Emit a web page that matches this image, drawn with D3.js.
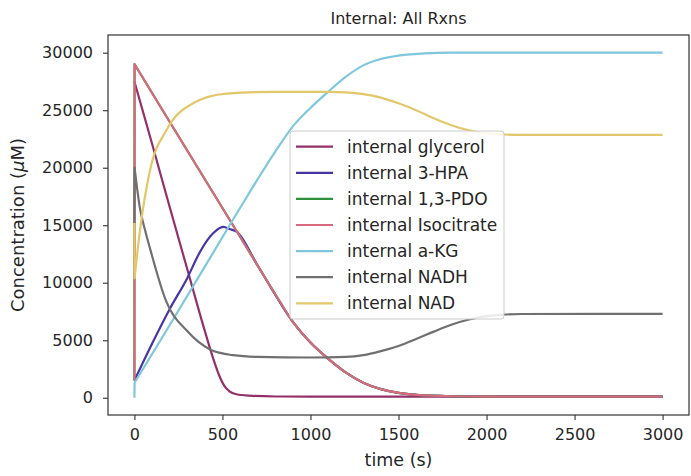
<!DOCTYPE html>
<html>
<head>
<meta charset="utf-8">
<script src="https://cdn.jsdelivr.net/npm/d3@7"></script>
<style>
  body { margin: 0; background: #fff; }
  svg { display: block; font-family: "DejaVu Sans", sans-serif; }
</style>
</head>
<body>
<svg id="chart" width="691" height="476"></svg>
<script>
// values, [time (s), concentration (uM)]
const glycerol = [[0,27500],[100,22100],[200,16600],[300,11200],[400,5800],[450,3300],[480,2000],[510,1050],[540,550],[580,300],[650,180],[800,110],[1000,100],[3000,100]]
const hpa = [[0,1500],[100,4700],[200,7700],[300,10400],[373,12700],[447,14300],[504,14850],[545,14650],[580,14450],[700,11500],[900,6600],[1000,4800],[1100,3400],[1200,2200],[1300,1300],[1400,750],[1500,420],[1600,250],[1800,130],[2000,100],[3000,100]]
const isocitrate = [[0,1500],[1,29000],[200,24000],[400,19000],[600,14000],[800,9000],[900,6600],[1000,4800],[1100,3400],[1200,2200],[1300,1300],[1400,750],[1500,420],[1600,250],[1800,130],[2000,100],[3000,100]]
const pdo = isocitrate.map(d => d.slice())   // hidden under isocitrate in the picture
const akg = [[0,0],[1,1300],[200,6300],[400,11400],[600,16500],[800,21400],[900,23600],[1000,25200],[1100,26600],[1200,27900],[1300,28900],[1400,29450],[1500,29750],[1650,29950],[1800,30000],[3000,30000]]
const nadh = [[0,15200],[1,20000],[30,16600],[60,14600],[90,12900],[180,8400],[300,5800],[430,4200],[560,3700],[700,3550],[1000,3500],[1200,3550],[1300,3700],[1400,4050],[1500,4500],[1600,5100],[1700,5750],[1800,6350],[1900,6800],[2000,7100],[2200,7280],[3000,7300]]
const nad = [[0,15200],[1,10400],[32,14600],[89,19800],[183,23300],[333,25600],[524,26450],[800,26600],[1100,26600],[1200,26550],[1300,26400],[1400,26100],[1500,25600],[1600,25000],[1700,24300],[1800,23700],[1900,23250],[2000,23000],[2200,22850],[3000,22850]]

const names = ['internal glycerol','internal 3-HPA','internal 1,3-PDO','internal Isocitrate','internal a-KG','internal NADH','internal NAD']
const colors = ['#93306a','#4535a5','#2f8f3a','#d96a7e','#7fc7dc','#707070','#e3c76b']
const seriesData = [glycerol, hpa, pdo, isocitrate, akg, nadh, nad]
const xTicks = [0,500,1000,1500,2000,2500,3000]
const yTicks = [0,5000,10000,15000,20000,25000,30000]

const svg = d3.select('#chart')
const plotLeft = 108, plotRight = 689, plotTop = 35, plotBottom = 415

const x = d3.scaleLinear().domain([-150,3150]).range([plotLeft,plotRight])
const y = d3.scaleLinear().domain([-1500,31540]).range([plotBottom,plotTop])

svg.append('clipPath').attr('id','clip')
   .append('rect')
   .attr('x',plotLeft).attr('y',plotTop)
   .attr('width',plotRight-plotLeft).attr('height',plotBottom-plotTop)

let line = d3.line()
   .x(d => x(d[0]))
   .y(d => y(d[1]))
   .curve(d3.curveMonotoneX)

// a jump right at t=0 is drawn straight, the rest smooth
function pathFor(d) {
   if (d[1][0] - d[0][0] <= 1) {
      return `M${x(d[0][0])},${y(d[0][1])}` + line(d.slice(1)).replace(/^M/,'L')
   }
   return line(d)
}

svg.append('g')
   .attr('clip-path','url(#clip)')
   .selectAll('path')
   .data(seriesData)
   .enter()
   .append('path')
   .attr('d',d => pathFor(d))
   .attr('fill','none')
   .attr('stroke',(d,i) => colors[i])
   .attr('stroke-width',2.2)
   .attr('stroke-linejoin','round')

// axes
svg.append('g')
   .attr('transform',`translate(0,${plotBottom})`)
   .call(d3.axisBottom(x).tickValues(xTicks).tickSize(5).tickPadding(9).tickFormat(d3.format('d')))
svg.append('g')
   .attr('transform',`translate(${plotLeft},0)`)
   .call(d3.axisLeft(y).tickValues(yTicks).tickSize(5).tickPadding(10).tickFormat(d3.format('d')))

svg.selectAll('.domain').remove()
svg.selectAll('.tick line').attr('stroke','#333').attr('stroke-width',1.1)
svg.selectAll('.tick text')
   .attr('fill','#262626')
   .style('font-family','DejaVu Sans')
   .style('font-size','16px')

svg.append('rect')
   .attr('x',plotLeft).attr('y',plotTop)
   .attr('width',plotRight-plotLeft).attr('height',plotBottom-plotTop)
   .attr('fill','none')
   .attr('stroke','#333')
   .attr('stroke-width',1.2)

// labels
svg.append('text')
   .attr('x',(plotLeft+plotRight)/2)
   .attr('y',24)
   .attr('text-anchor','middle')
   .attr('fill','#262626')
   .style('font-size','16px')
   .text('Internal: All Rxns')

svg.append('text')
   .attr('x',(plotLeft+plotRight)/2)
   .attr('y',466)
   .attr('text-anchor','middle')
   .attr('fill','#262626')
   .style('font-size','17.5px')
   .text('time (s)')

let yl = svg.append('text')
   .attr('transform',`translate(24,${(plotTop+plotBottom)/2}) rotate(-90)`)
   .attr('text-anchor','middle')
   .attr('fill','#262626')
   .style('font-size','18px')
yl.append('tspan').text('Concentration (')
yl.append('tspan').style('font-style','italic').text('μ')
yl.append('tspan').text('M)')

// legend
let legend = svg.append('g')
legend.append('rect')
   .attr('x',290).attr('y',131)
   .attr('width',214).attr('height',188)
   .attr('rx',3)
   .attr('fill','white')
   .attr('fill-opacity',0.85)
   .attr('stroke','#cccccc')

let items = legend.selectAll('g.item')
   .data(names)
   .enter()
   .append('g')
   .attr('class','item')
   .attr('transform',(d,i) => `translate(0,${146.7 + i*26.1})`)

items.append('line')
   .attr('x1',296).attr('x2',333)
   .attr('stroke',(d,i) => colors[i])
   .attr('stroke-width',2.2)

items.append('text')
   .attr('x',347)
   .attr('dy','0.35em')
   .attr('fill','#262626')
   .style('font-size','17px')
   .text(d => d)
</script>
</body>
</html>
